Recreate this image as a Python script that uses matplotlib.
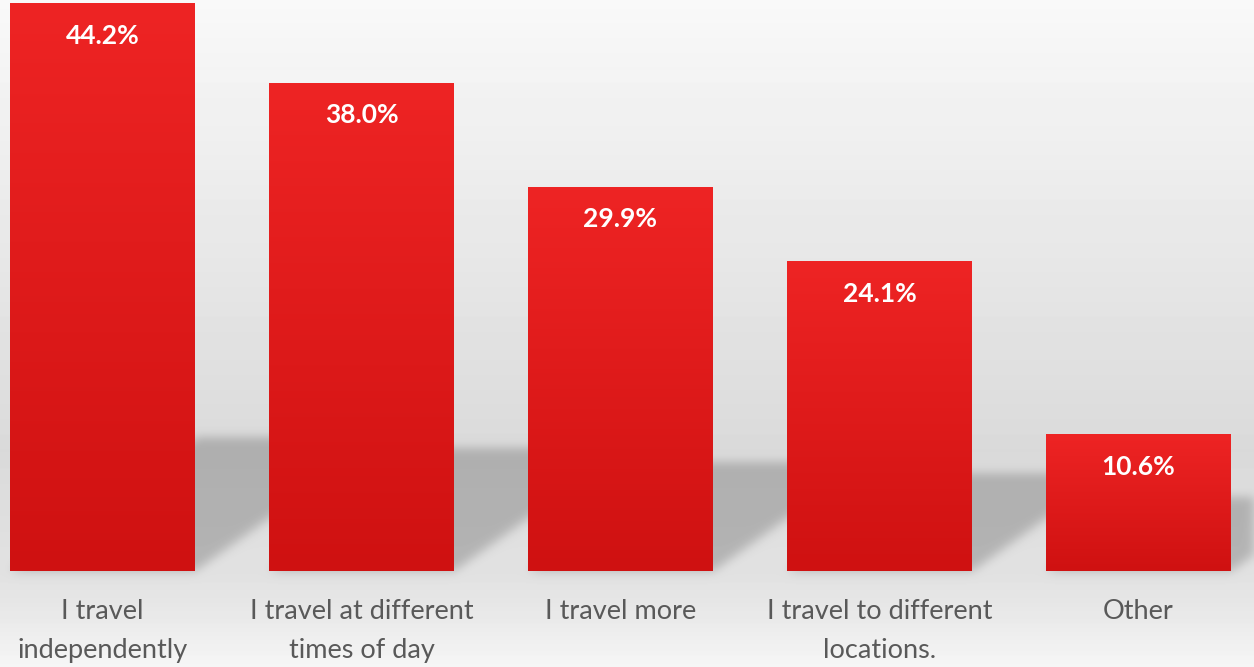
import numpy as np
import matplotlib
matplotlib.use('Agg')
import matplotlib.pyplot as plt
from matplotlib.colors import LinearSegmentedColormap

categories = ['I travel\nindependently', 'I travel at different\ntimes of day',
              'I travel more', 'I travel to different\nlocations.', 'Other']
values = [44.2, 38.0, 29.9, 24.1, 10.6]
value_labels = ['44.2%', '38.0%', '29.9%', '24.1%', '10.6%']

W, H = 1254, 667
fig = plt.figure(figsize=(W / 100, H / 100), dpi=100)
ax = fig.add_axes([0, 0, 1, 1])
ax.set_xlim(-0.3958, 4.446)
ax.set_ylim(-7.48, 44.5)
ax.axis('off')

x = np.arange(len(values))
bar_w = 0.714
bars = ax.bar(x, values, width=bar_w, color='none', edgecolor='none', zorder=2)

# background: vertical gray gradient plus soft perspective shadows behind bars
yy = np.arange(H) + 0.5          # pixel rows from bottom
xx = np.arange(W) + 0.5
X, Y = np.meshgrid(xx, yy)
from_top = H - yy
bg = np.interp(from_top, [0, 450, 571, 600, 667], [0.975, 0.855, 0.885, 0.9, 0.965])

mask = np.zeros((H, W))
for b in bars:
    (xl, yb) = ax.transData.transform((b.get_x(), 0))
    (xr, yt) = ax.transData.transform((b.get_x() + b.get_width(), b.get_height()))
    sh = 55 + 0.14 * (yt - yb)
    dx = 1.4 * sh
    t = (Y - yb) / sh
    inside = (t >= 0) & (t <= 1) & (X >= xl + dx * t) & (X <= xr + dx * t)
    mask[inside] = 1.0

k = np.arange(-15, 16)
kern = np.exp(-k ** 2 / (2 * 5.0 ** 2))
kern /= kern.sum()
mask = np.apply_along_axis(lambda r: np.convolve(r, kern, mode='same'), 1, mask)
mask = np.apply_along_axis(lambda c: np.convolve(c, kern, mode='same'), 0, mask)

img = bg[:, None] * (1 - 0.2 * mask)
ax.imshow(img, cmap='gray', vmin=0, vmax=1, origin='lower', aspect='auto',
          extent=(*ax.get_xlim(), *ax.get_ylim()), zorder=0, interpolation='bilinear')
ax.set_xlim(-0.3958, 4.446)
ax.set_ylim(-7.48, 44.5)

# red gradient bars
red = LinearSegmentedColormap.from_list('red', ['#CF1111', '#EE2424'])
grad = np.linspace(0, 1, 256).reshape(-1, 1)
for b in bars:
    ax.imshow(grad, cmap=red, origin='lower', aspect='auto', zorder=3,
              extent=(b.get_x(), b.get_x() + b.get_width(), 0, b.get_height()))
ax.set_xlim(-0.3958, 4.446)
ax.set_ylim(-7.48, 44.5)

for i, v in enumerate(values):
    ax.annotate(value_labels[i], xy=(i, v), xytext=(0, -32), textcoords='offset pixels',
                ha='center', va='center', color='white', fontsize=19,
                fontweight='bold', family='Lato', zorder=4)
    ax.annotate(categories[i], xy=(i, 0), xytext=(0, -28), textcoords='offset pixels',
                ha='center', va='top', color='#595959', fontsize=19.5,
                family='Lato', linespacing=1.72, zorder=4)

fig.savefig('out.png', dpi=100)
